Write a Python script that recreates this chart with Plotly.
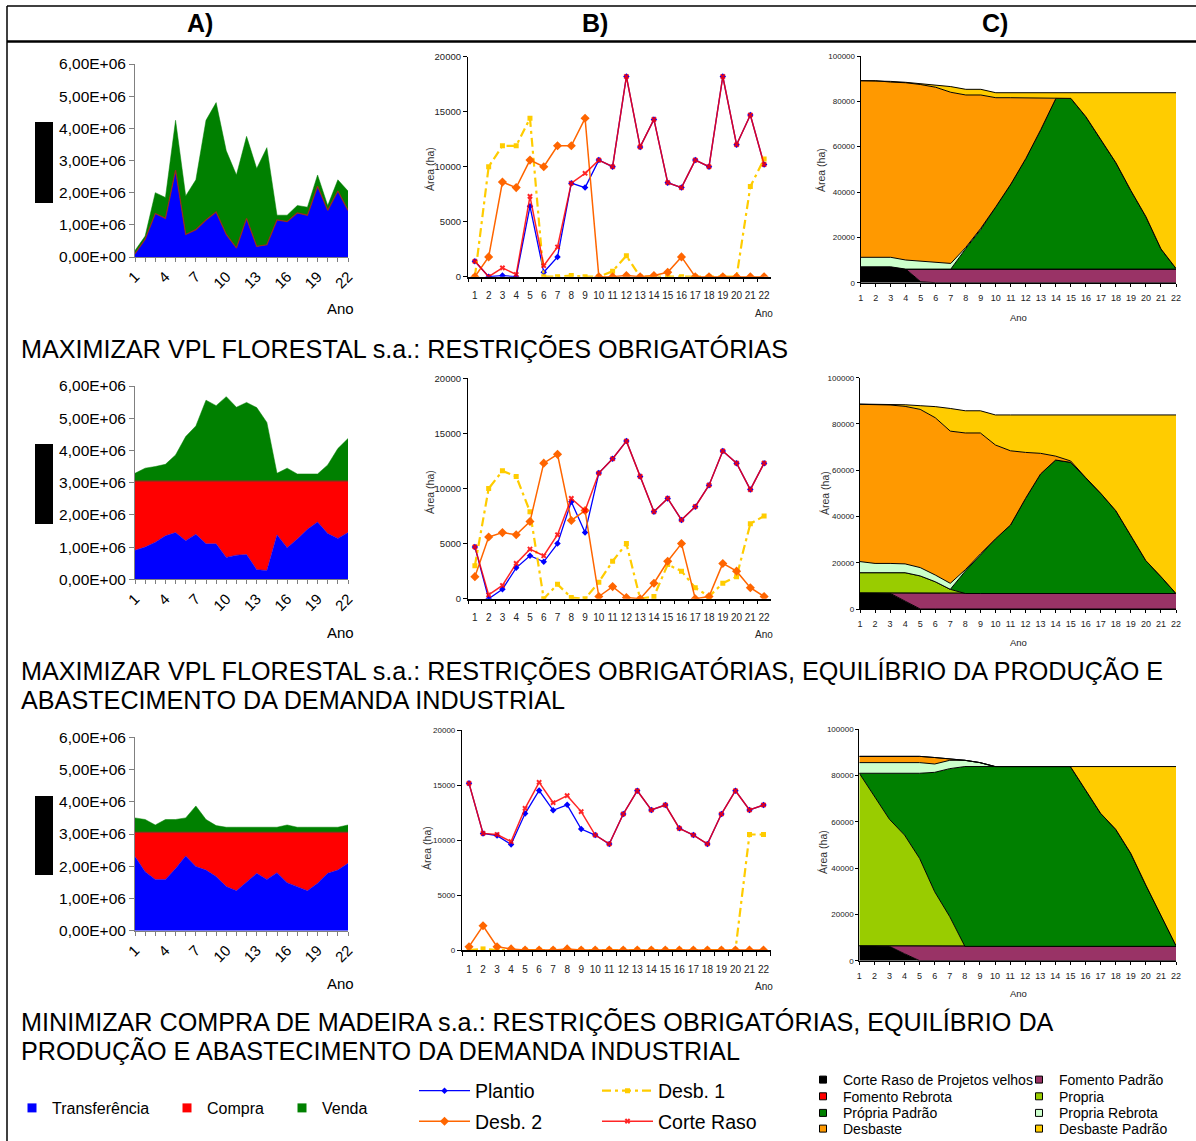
import plotly.graph_objects as go

W, H = 1196, 1141
FONT = "Liberation Sans, Arial, Helvetica, sans-serif"

# ---------------- data ----------------
anos = list(range(1, 23))
anos_txt = [str(a) for a in anos]

a_tickvals = [0, 1000000, 2000000, 3000000, 4000000, 5000000, 6000000]
a_ticktext = ["0,00E+00", "1,00E+06", "2,00E+06", "3,00E+06", "4,00E+06", "5,00E+06", "6,00E+06"]

# A) Transferência / Compra / Venda (stacked)
a1_transf = [100000, 550000, 1350000, 1200000, 2700000, 700000, 850000, 1150000, 1400000, 700000, 280000,
             1200000, 330000, 380000, 1150000, 1100000, 1370000, 1300000, 2200000, 1450000, 2050000, 1450000]
a1_compra = [0, 0, 0, 0, 0, 0, 0, 0, 0, 0, 0, 0, 0, 0, 0, 0, 0, 0, 0, 0, 0, 0]
a1_venda = [100000, 100000, 650000, 650000, 1550000, 1200000, 1550000, 3100000, 3400000, 2600000, 2270000,
            2550000, 2420000, 3020000, 150000, 200000, 230000, 250000, 350000, 150000, 350000, 600000]

a2_transf = [900000, 1000000, 1150000, 1350000, 1450000, 1200000, 1400000, 1100000, 1100000, 680000, 750000,
             770000, 300000, 270000, 1380000, 980000, 1250000, 1550000, 1780000, 1420000, 1270000, 1450000]
a2_compra = [2150000, 2050000, 1900000, 1700000, 1600000, 1850000, 1650000, 1950000, 1950000, 2370000, 2300000,
             2280000, 2750000, 2780000, 1670000, 2070000, 1800000, 1500000, 1270000, 1630000, 1780000, 1600000]
a2_venda = [240000, 400000, 450000, 520000, 810000, 1380000, 1710000, 2510000, 2340000, 2620000, 2290000,
            2440000, 2280000, 1820000, 240000, 400000, 220000, 220000, 220000, 500000, 1010000, 1320000]

a3_transf = [2300000, 1830000, 1590000, 1590000, 1930000, 2320000, 1990000, 1880000, 1680000, 1370000, 1240000,
             1500000, 1780000, 1590000, 1800000, 1490000, 1370000, 1240000, 1470000, 1780000, 1880000, 2090000]
a3_compra = [750000, 1220000, 1460000, 1460000, 1120000, 730000, 1060000, 1170000, 1370000, 1680000, 1810000,
             1550000, 1270000, 1460000, 1250000, 1560000, 1680000, 1810000, 1580000, 1270000, 1170000, 960000]
a3_venda = [450000, 400000, 230000, 400000, 400000, 450000, 820000, 400000, 210000, 160000, 160000,
            160000, 160000, 160000, 160000, 230000, 160000, 160000, 160000, 160000, 160000, 230000]

# B) Plantio / Desb. 1 / Desb. 2 / Corte Raso (ha)
b1_plantio = [1400, 0, 100, 0, 6400, 400, 1800, 8500, 8100, 10600, 10000, 18200, 11800, 14300, 8550, 8100,
              10600, 10000, 18200, 12000, 14700, 10200]
b1_desb1 = [0, 10000, 11900, 11900, 14400, 0, 0, 100, 0, 0, 500, 1900, 0, 0, 0, 0, 0, 0, 0, 0, 8200, 10700]
b1_desb2 = [0, 1800, 8600, 8100, 10600, 10000, 11900, 11900, 14400, 0, 0, 100, 0, 100, 400, 1800, 0, 0, 0, 0, 0, 0]
b1_corte = [1400, 0, 800, 200, 7300, 1000, 2700, 8500, 9400, 10600, 10000, 18200, 11800, 14300, 8550, 8100,
            10600, 10000, 18200, 12000, 14700, 10200]

b2_plantio = [4700, 0, 850, 2800, 3900, 3350, 5000, 8800, 6000, 11400, 12700, 14300, 11100, 7900, 9100, 7150,
              8350, 10300, 13400, 12300, 9900, 12300]
b2_desb1 = [3000, 10000, 11600, 11100, 7900, 0, 1300, 100, 0, 1500, 3400, 5000, 0, 200, 3100, 2500, 1000, 200,
            1400, 2000, 6800, 7500]
b2_desb2 = [2000, 5600, 6000, 5800, 7000, 12300, 13100, 7100, 8000, 200, 1100, 100, 0, 1400, 3400, 5000, 0, 200,
            3200, 2500, 1000, 200]
b2_corte = [4700, 350, 1200, 3200, 4500, 3900, 5800, 9100, 8000, 11400, 12700, 14300, 11100, 7900, 9100, 7150,
            8350, 10300, 13400, 12300, 9900, 12300]

b3_plantio = [15150, 10600, 10400, 9600, 12400, 14500, 12700, 13200, 11000, 10450, 9640, 12360, 14480, 12730,
              13180, 11060, 10450, 9640, 12360, 14480, 12730, 13180]
b3_desb1 = [0, 100, 0, 0, 0, 0, 0, 0, 0, 0, 0, 0, 0, 0, 0, 0, 0, 0, 0, 0, 10500, 10500]
b3_desb2 = [300, 2200, 300, 100, 0, 0, 0, 100, 0, 0, 0, 0, 0, 0, 0, 0, 0, 0, 0, 0, 0, 0]
b3_corte = [15150, 10600, 10500, 9850, 12880, 15240, 13390, 14030, 12580, 10450, 9640, 12360, 14480, 12730,
            13180, 11060, 10450, 9640, 12360, 14480, 12730, 13180]

# C) stacked areas (ha)
c1_velhos = [7000, 7000, 7000, 6000, 400, 0, 0, 0, 0, 0, 0, 0, 0, 0, 0, 0, 0, 0, 0, 0, 0, 0]
c1_fom_padrao = [0, 0, 0, 0, 5600, 6000, 6000, 6000, 6000, 6000, 6000, 6000, 6000, 6000, 6000, 6000, 6000, 6000,
                 6000, 6000, 6000, 6000]
c1_fom_rebrota = [0, 0, 0, 0, 0, 0, 0, 0, 0, 0, 0, 0, 0, 0, 0, 0, 0, 0, 0, 0, 0, 0]
c1_propria = [0, 0, 0, 0, 0, 0, 0, 0, 0, 0, 0, 0, 0, 0, 0, 0, 0, 0, 0, 0, 0, 0]
c1_propria_padrao = [0, 0, 0, 0, 0, 0, 0, 9100, 17500, 27500, 37500, 48800, 61600, 75300, 75300, 67200, 57200,
                     46900, 34600, 23100, 8900, 300]
c1_propria_rebrota = [4200, 4200, 4200, 4000, 3500, 2800, 2500, 500, 500, 0, 0, 0, 0, 0, 0, 0, 0, 0, 0, 0, 0, 0]
c1_desbaste = [77900, 77900, 77300, 78200, 77900, 77400, 75500, 67200, 58800, 48100, 38100, 26800, 14000, 300,
               0, 0, 0, 0, 0, 0, 0, 0]
c1_desb_padrao = [0, 0, 300, 200, 400, 900, 2500, 2500, 2500, 2200, 2200, 2200, 2200, 2200, 2500, 10600, 20600,
                  30900, 43200, 54700, 68900, 77500]

c2_velhos = [7000, 7000, 6800, 3400, 0, 0, 0, 0, 0, 0, 0, 0, 0, 0, 0, 0, 0, 0, 0, 0, 0, 0]
c2_fom_padrao = [0, 0, 0, 3300, 6700, 6700, 6700, 6700, 6700, 6700, 6700, 6700, 6700, 6700, 6700, 6700, 6700,
                 6700, 6700, 6700, 6700, 6700]
c2_fom_rebrota = [0, 0, 0, 0, 0, 0, 0, 0, 0, 0, 0, 0, 0, 0, 0, 0, 0, 0, 0, 0, 0, 0]
c2_propria = [8700, 8700, 8900, 9000, 7600, 5100, 1800, 0, 0, 0, 0, 0, 0, 0, 0, 0, 0, 0, 0, 0, 0, 0]
c2_propria_padrao = [0, 0, 0, 0, 0, 0, 0, 9700, 16600, 23600, 29600, 41100, 51700, 57700, 56700, 50100, 43300,
                     35800, 25300, 14200, 7300, 0]
c2_propria_rebrota = [4800, 4000, 4000, 3800, 3600, 2900, 2600, 600, 500, 0, 0, 0, 0, 0, 0, 0, 0, 0, 0, 0, 0, 0]
c2_desbaste = [68000, 68800, 68500, 68100, 68400, 68000, 65800, 59100, 52300, 40600, 32100, 19900, 8900, 1700,
               600, 0, 0, 0, 0, 0, 0, 0]
c2_desb_padrao = [100, 100, 300, 700, 1600, 4800, 9800, 9600, 9600, 13000, 15500, 16200, 16600, 17800, 19900,
                  27100, 33900, 41400, 51900, 63000, 69900, 77200]

c3_velhos = [6500, 6500, 6200, 3000, 0, 0, 0, 0, 0, 0, 0, 0, 0, 0, 0, 0, 0, 0, 0, 0, 0, 0]
c3_fom_padrao = [0, 0, 0, 3200, 6200, 6200, 6200, 6200, 6200, 6200, 6200, 6200, 6200, 6200, 6200, 6200, 6200,
                 6200, 6200, 6200, 6200, 6200]
c3_fom_rebrota = [0, 0, 0, 0, 0, 0, 0, 0, 0, 0, 0, 0, 0, 0, 0, 0, 0, 0, 0, 0, 0, 0]
c3_propria = [74500, 64400, 54900, 48100, 38000, 23600, 12800, 0, 0, 0, 0, 0, 0, 0, 0, 0, 0, 0, 0, 0, 0, 0]
c3_propria_padrao = [0, 10100, 19900, 26700, 36800, 51600, 64000, 77700, 77700, 77700, 77700, 77700, 77700,
                     77700, 77700, 67600, 57500, 50600, 40200, 26500, 13500, 300]
c3_propria_rebrota = [4600, 4600, 4600, 4600, 4600, 3600, 3600, 2700, 1700, 0, 0, 0, 0, 0, 0, 0, 0, 0, 0, 0, 0, 0]
c3_desbaste = [2700, 2700, 2700, 2700, 2700, 2800, 600, 0, 0, 0, 0, 0, 0, 0, 0, 0, 0, 0, 0, 0, 0, 0]
c3_desb_padrao = [0, 0, 0, 0, 0, 0, 0, 0, 0, 0, 0, 0, 0, 0, 0, 10100, 20200, 27100, 37500, 51200, 64200, 77400]

a_names = ["Transferência", "Compra", "Venda"]
a_colors = ["#0000FF", "#FF0000", "#008000"]
b_names = ["Plantio", "Desb. 1", "Desb. 2", "Corte Raso"]
c_names = ["Corte Raso de Projetos velhos", "Fomento Padrão", "Fomento Rebrota", "Propria",
           "Própria Padrão", "Propria Rebrota", "Desbaste", "Desbaste Padrão"]
c_colors = ["#000000", "#993366", "#FF0000", "#99CC00", "#008000", "#CCFFCC", "#FF9900", "#FFCC00"]

titles = [
    ("MAXIMIZAR VPL FLORESTAL s.a.: RESTRIÇÕES OBRIGATÓRIAS", 349),
    ("MAXIMIZAR VPL FLORESTAL s.a.: RESTRIÇÕES OBRIGATÓRIAS, EQUILÍBRIO DA PRODUÇÃO E", 671),
    ("ABASTECIMENTO DA DEMANDA INDUSTRIAL", 700),
    ("MINIMIZAR COMPRA DE MADEIRA s.a.: RESTRIÇÕES OBRIGATÓRIAS, EQUILÍBRIO DA", 1022),
    ("PRODUÇÃO E ABASTECIMENTO DA DEMANDA INDUSTRIAL", 1051),
]

# ---------------- layout helpers ----------------
def fx(p):
    return p / W


def fy(p):
    return 1 - p / H


# panel boxes in pixels: left, right, top, bottom
box = {
    1: (135, 348, 64, 257), 2: (468, 771, 56.7, 276.7), 3: (860.7, 1176, 56, 282.7),
    4: (135, 348, 386, 579.3), 5: (468, 771, 378.3, 598.7), 6: (860, 1176, 377.7, 609),
    7: (135, 348, 737.3, 930.7), 8: (462, 770.5, 730, 950), 9: (859.3, 1176, 729.3, 960.7),
}


def refs(i):
    return ("x" if i == 1 else f"x{i}"), ("y" if i == 1 else f"y{i}")


fig = go.Figure()

A_DATA = [(1, a1_transf, a1_compra, a1_venda), (4, a2_transf, a2_compra, a2_venda),
          (7, a3_transf, a3_compra, a3_venda)]
B_DATA = [(2, b1_plantio, b1_desb1, b1_desb2, b1_corte), (5, b2_plantio, b2_desb1, b2_desb2, b2_corte),
          (8, b3_plantio, b3_desb1, b3_desb2, b3_corte)]
C_DATA = [(3, [c1_velhos, c1_fom_padrao, c1_fom_rebrota, c1_propria, c1_propria_padrao, c1_propria_rebrota,
               c1_desbaste, c1_desb_padrao]),
          (6, [c2_velhos, c2_fom_padrao, c2_fom_rebrota, c2_propria, c2_propria_padrao, c2_propria_rebrota,
               c2_desbaste, c2_desb_padrao]),
          (9, [c3_velhos, c3_fom_padrao, c3_fom_rebrota, c3_propria, c3_propria_padrao, c3_propria_rebrota,
               c3_desbaste, c3_desb_padrao])]

# A panels: stacked areas
for i, tr, co, ve in A_DATA:
    xa, ya = refs(i)
    line_cols = ["#0000FF", "#9A2A1A", "#008000"]
    widths = [0.5, 1.2, 0.5]
    for name, vals, col, lc, lw in zip(a_names, [tr, co, ve], a_colors, line_cols, widths):
        fig.add_trace(go.Scatter(x=anos, y=vals, stackgroup=f"a{i}", mode="lines", name=name,
                                 line=dict(color=lc, width=lw), fillcolor=col, showlegend=False,
                                 xaxis=xa, yaxis=ya))

# B panels: lines with markers
b_styles = [
    dict(line=dict(color="#0000FF", width=1.3), marker=dict(symbol="diamond", size=5, color="#0000FF")),
    dict(line=dict(color="#FFCC00", width=2.2, dash="9px,4px,3px,4px"),
         marker=dict(symbol="square", size=5, color="#FFCC00")),
    dict(line=dict(color="#FF6600", width=1.5), marker=dict(symbol="diamond", size=7, color="#FF6600")),
    dict(line=dict(color="#FF0000", width=1.5), marker=dict(symbol="x", size=5, color="#FF0000")),
]
b_legend = ["legend2", "legend2", "legend3", "legend3"]
b_lw = [117, None, 117, None]
for i, p, d1, d2, cr in B_DATA:
    xa, ya = refs(i)
    for k, (name, vals) in enumerate(zip(b_names, [p, d1, d2, cr])):
        kw = dict(b_styles[k])
        tr = go.Scatter(x=anos_txt, y=vals, mode="lines+markers", name=name, xaxis=xa, yaxis=ya,
                        showlegend=(i == 2), legend=b_legend[k],
                        opacity=0.85 if k == 3 else 1.0, **kw)
        if b_lw[k]:
            tr.legendwidth = b_lw[k]
        fig.add_trace(tr)

# C panels: stacked areas with black outlines
for i, series in C_DATA:
    xa, ya = refs(i)
    for name, vals, col in zip(c_names, series, c_colors):
        fig.add_trace(go.Scatter(x=anos, y=vals, stackgroup=f"c{i}", mode="lines", name=name,
                                 line=dict(color="#000000", width=1), fillcolor=col, showlegend=False,
                                 xaxis=xa, yaxis=ya))

# legend proxies (square keys)
a_lw = [110, 70, None]
for name, col, lw in zip(a_names, a_colors, a_lw):
    tr = go.Scatter(x=[None], y=[None], mode="markers", name=name, legend="legend",
                    marker=dict(symbol="square", size=9, color=col), xaxis="x", yaxis="y")
    if lw:
        tr.legendwidth = lw
    fig.add_trace(tr)

# column 1: velhos, fom rebrota, propria padrao, desbaste ; column 2: fom padrao, propria, propria rebrota, desb padrao
c_leg_rows = [("legend4", 0, 1), ("legend5", 2, 3), ("legend6", 4, 5), ("legend7", 6, 7)]
for lg, k1, k2 in c_leg_rows:
    for j, k in enumerate([k1, k2]):
        tr = go.Scatter(x=[None], y=[None], mode="markers", name=c_names[k], legend=lg,
                        marker=dict(symbol="square", size=7, color=c_colors[k],
                                    line=dict(color="#000000", width=1)),
                        xaxis="x3", yaxis="y3")
        if j == 0:
            tr.legendwidth = 171
        fig.add_trace(tr)

# ---------------- axes ----------------
layout = {}
for i, (l, r, t, b) in box.items():
    xn = "xaxis" if i == 1 else f"xaxis{i}"
    yn = "yaxis" if i == 1 else f"yaxis{i}"
    xa, ya = refs(i)
    kind = "ABC"[(i - 1) % 3]
    xd = [fx(l), fx(r)]
    yd = [fy(b), fy(t)]
    if kind == "A":
        layout[xn] = dict(domain=xd, anchor=ya, range=[1, 22], tickmode="linear", tick0=1, dtick=3,
                          tickangle=-45, ticks="outside", ticklen=4, tickcolor="#808080",
                          showline=True, linecolor="#808080", linewidth=1, showgrid=False, zeroline=False,
                          tickfont=dict(family=FONT, size=15, color="#000"),
                          minor=dict(tick0=1, dtick=1, ticks="outside", ticklen=4, tickcolor="#808080"))
        layout[yn] = dict(domain=yd, anchor=xa, range=[0, 6000000], tickmode="array", tickvals=a_tickvals,
                          ticktext=a_ticktext, ticks="outside", ticklen=5, tickcolor="#808080",
                          showline=True, linecolor="#808080", linewidth=1, showgrid=False, zeroline=False,
                          tickfont=dict(family=FONT, size=15.5, color="#000"))
    elif kind == "B":
        ysz = 8 if i == 8 else 9.5
        layout[xn] = dict(domain=xd, anchor=ya, type="category", categoryorder="array", categoryarray=anos_txt,
                          range=[-0.5, 21.5], tickson="boundaries", ticks="outside", ticklen=4,
                          tickangle=0, tickcolor="#000", showline=True, linecolor="#000", linewidth=1.5,
                          showgrid=False, zeroline=False, ticklabelstandoff=9,
                          tickfont=dict(family=FONT, size=10, color="#222"))
        layout[yn] = dict(domain=yd, anchor=xa, range=[0, 20000], tickmode="linear", tick0=0, dtick=5000,
                          tickformat="d", ticks="outside", ticklen=4, tickcolor="#000",
                          showline=True, linecolor="#000", linewidth=1.2, showgrid=False, zeroline=False,
                          tickfont=dict(family=FONT, size=ysz, color="#222"))
    else:
        layout[xn] = dict(domain=xd, anchor=ya, range=[1, 22], tickmode="linear", tick0=1, dtick=1,
                          tickangle=0, ticks="outside", ticklen=3, tickcolor="#000", showline=True,
                          linecolor="#000", linewidth=1.2, showgrid=False, zeroline=False,
                          ticklabelstandoff=3, tickfont=dict(family=FONT, size=9, color="#222"))
        layout[yn] = dict(domain=yd, anchor=xa, range=[0, 100000], tickmode="linear", tick0=0, dtick=20000,
                          tickformat="d", ticks="outside", ticklen=3, tickcolor="#000",
                          showline=True, linecolor="#000", linewidth=1.2, showgrid=False, zeroline=False,
                          tickfont=dict(family=FONT, size=8, color="#222"))

# ---------------- annotations ----------------
ann = []
for txt, xp in [("A)", 200), ("B)", 595), ("C)", 995)]:
    ann.append(dict(text=f"<b>{txt}</b>", x=fx(xp), y=fy(23), xref="paper", yref="paper", showarrow=False,
                    xanchor="center", yanchor="middle", font=dict(family=FONT, size=25, color="#000")))
for txt, yp in titles:
    ann.append(dict(text=txt, x=fx(19), y=fy(yp), xref="paper", yref="paper", showarrow=False,
                    xanchor="left", yanchor="middle", font=dict(family=FONT, size=25.2, color="#000")))
for xp, yp in [(340, 309), (340, 632), (340, 983)]:
    ann.append(dict(text="Ano", x=fx(xp), y=fy(yp), xref="paper", yref="paper", showarrow=False,
                    xanchor="center", yanchor="middle", font=dict(family=FONT, size=15, color="#000")))
for xp, yp in [(764, 313), (764, 634), (764, 986)]:
    ann.append(dict(text="Ano", x=fx(xp), y=fy(yp), xref="paper", yref="paper", showarrow=False,
                    xanchor="center", yanchor="middle", font=dict(family=FONT, size=10, color="#222")))
for xp, yp in [(1018, 317), (1018, 642), (1018, 993)]:
    ann.append(dict(text="Ano", x=fx(xp), y=fy(yp), xref="paper", yref="paper", showarrow=False,
                    xanchor="center", yanchor="middle", font=dict(family=FONT, size=9.5, color="#222")))
for xp, yp in [(430, 169), (430, 492), (427, 848), (821, 170), (825, 493), (823, 852)]:
    ann.append(dict(text="Área (ha)", x=fx(xp), y=fy(yp), xref="paper", yref="paper", showarrow=False,
                    textangle=-90, xanchor="center", yanchor="middle",
                    font=dict(family=FONT, size=10.5, color="#333")))

# ---------------- shapes (frame + masked y-titles) ----------------
shapes = [
    dict(type="line", xref="paper", yref="paper", x0=fx(7), x1=1, y0=fy(6), y1=fy(6),
         line=dict(color="#000", width=1.5)),
    dict(type="line", xref="paper", yref="paper", x0=fx(7), x1=1, y0=fy(41.5), y1=fy(41.5),
         line=dict(color="#000", width=2.5)),
    dict(type="line", xref="paper", yref="paper", x0=fx(7), x1=fx(7), y0=0, y1=fy(6),
         line=dict(color="#000", width=1.5)),
]
for t, b in [(122, 203), (444, 524), (796, 875)]:
    shapes.append(dict(type="rect", xref="paper", yref="paper", x0=fx(35), x1=fx(53), y0=fy(b), y1=fy(t),
                       fillcolor="#000", line=dict(width=0)))

# ---------------- legends ----------------
def leg(xp, yp, size, itemwidth=30):
    return dict(orientation="h", x=fx(xp), xanchor="left", y=fy(yp), yanchor="middle",
                bgcolor="rgba(0,0,0,0)", borderwidth=0, itemwidth=itemwidth, traceorder="normal",
                font=dict(family=FONT, size=size, color="#000"))


layout["legend"] = leg(12, 1108, 16)
layout["legend2"] = leg(414, 1091, 19.5, 51)
layout["legend3"] = leg(414, 1121.5, 19.5, 51)
layout["legend4"] = leg(803, 1080, 14)
layout["legend5"] = leg(803, 1096.7, 14)
layout["legend6"] = leg(803, 1113.3, 14)
layout["legend7"] = leg(803, 1129, 14)

fig.update_layout(
    width=W, height=H, margin=dict(l=0, r=0, t=0, b=0, autoexpand=False),
    paper_bgcolor="#FFFFFF", plot_bgcolor="#FFFFFF",
    font=dict(family=FONT, color="#000"),
    annotations=ann, shapes=shapes, hovermode=False,
    **layout,
)

fig.write_html("out.html", config={"displayModeBar": False},
               post_script="document.body.style.margin='0px';document.body.style.padding='0px';")
